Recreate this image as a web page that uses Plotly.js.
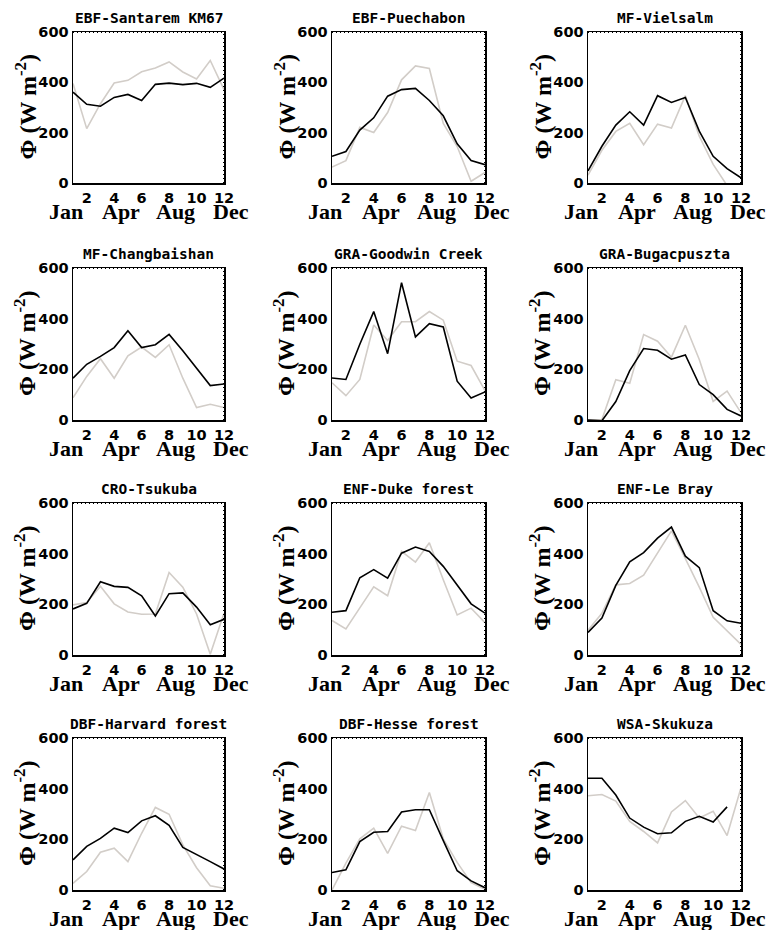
<!DOCTYPE html>
<html>
<head>
<meta charset="utf-8">
<script src="https://cdn.plot.ly/plotly-3.0.1.min.js"></script>
<style>html,body{margin:0;padding:0;background:#fff;}#chart{width:767px;height:930px;}</style>
</head>
<body>
<div id="chart"></div>
<script>
// ---- data ----
const months = [1, 2, 3, 4, 5, 6, 7, 8, 9, 10, 11, 12];
const xTickVals = [2, 4, 6, 8, 10, 12];
const yTickVals = [0, 200, 400, 600];
const monthNames = ['Jan', 'Apr', 'Aug', 'Dec'];
const monthNamePos = [0.5, 4.5, 8.5, 12.5];

const siteNames = ['EBF-Santarem KM67', 'EBF-Puechabon', 'MF-Vielsalm',
  'MF-Changbaishan', 'GRA-Goodwin Creek', 'GRA-Bugacpuszta',
  'CRO-Tsukuba', 'ENF-Duke forest', 'ENF-Le Bray',
  'DBF-Harvard forest', 'DBF-Hesse forest', 'WSA-Skukuza'];

// black line (series A) and grey line (series B), W m-2
const santaremA = [361, 313, 305, 340, 352, 328, 392, 397, 391, 396, 380, 417];
const santaremB = [395, 216, 315, 397, 408, 442, 457, 481, 441, 413, 487, 371];
const puechabonA = [106, 125, 210, 259, 345, 371, 376, 328, 267, 156, 89, 73];
const puechabonB = [63, 89, 221, 201, 280, 410, 465, 455, 237, 145, 7, 42];
const vielsalmA = [48, 146, 230, 283, 230, 347, 320, 340, 206, 106, 57, 21];
const vielsalmB = [31, 130, 205, 237, 152, 234, 218, 347, 186, 74, -10, -40];
const changbaishanA = [165, 220, 251, 286, 352, 286, 297, 338, 273, 204, 136, 142];
const changbaishanB = [88, 172, 242, 165, 253, 288, 247, 297, 165, 49, 62, 49];
const goodwinA = [166, 160, 299, 428, 262, 542, 328, 380, 367, 153, 87, 111];
const goodwinB = [147, 96, 160, 375, 314, 388, 388, 428, 394, 232, 215, 116];
const bugacA = [0, -3, 73, 195, 282, 275, 240, 257, 140, 100, 42, 16];
const bugacB = [0, 2, 159, 145, 337, 311, 248, 374, 239, 73, 114, 29];
const tsukubaA = [182, 204, 289, 271, 267, 234, 154, 242, 245, 189, 119, 141];
const tsukubaB = [198, 207, 271, 202, 170, 161, 162, 326, 268, 162, 3, 165];
const dukeA = [169, 175, 305, 337, 303, 402, 426, 409, 350, 274, 202, 165];
const dukeB = [136, 103, 186, 269, 234, 409, 367, 443, 297, 158, 185, 128];
const lebrayA = [89, 146, 275, 368, 404, 461, 505, 390, 345, 175, 135, 125];
const lebrayB = [98, 165, 277, 282, 315, 401, 490, 380, 268, 149, 96, 42];
const harvardA = [119, 172, 204, 244, 227, 273, 293, 255, 168, 141, 112, 83];
const harvardB = [26, 73, 149, 165, 112, 224, 326, 299, 178, 88, 17, 7];
const hesseA = [69, 80, 191, 228, 231, 308, 317, 317, 195, 76, 36, 9];
const hesseB = [0, 106, 202, 244, 145, 252, 235, 385, 202, 109, 29, 3];
const skukuzaA = [441, 441, 375, 284, 248, 222, 226, 271, 291, 268, 328, null];
const skukuzaB = [372, 377, 351, 271, 231, 186, 308, 353, 284, 311, 215, 404];

const seriesA = [santaremA, puechabonA, vielsalmA, changbaishanA, goodwinA, bugacA,
  tsukubaA, dukeA, lebrayA, harvardA, hesseA, skukuzaA];
const seriesB = [santaremB, puechabonB, vielsalmB, changbaishanB, goodwinB, bugacB,
  tsukubaB, dukeB, lebrayB, harvardB, hesseB, skukuzaB];

// ---- layout ----
const W = 767, H = 930;
const colPx = [[73, 224], [332, 485], [588, 741]];
const rowPx = [[32, 183], [268, 420], [503, 655], [738, 890]];
const xRange = [1, 12];
const yRange = [0, 600];

const tickFont = {family: 'DejaVu Sans', size: 14.5, color: '#000', weight: 'bold'};
const data = [];
const layout = {
  width: W, height: H,
  margin: {l: 0, r: 0, t: 0, b: 0},
  paper_bgcolor: '#fff', plot_bgcolor: '#fff',
  showlegend: false,
  annotations: [], shapes: []
};

siteNames.forEach((name, i) => {
  const n = i + 1;
  const sfx = n === 1 ? '' : String(n);
  const r = Math.floor(i / 3), c = i % 3;
  const xa = 'x' + sfx, ya = 'y' + sfx;

  data.push({x: months, y: seriesB[i], xaxis: xa, yaxis: ya, type: 'scatter', mode: 'lines',
    line: {color: '#d2cdc8', width: 1.6}, hoverinfo: 'skip'});
  data.push({x: months, y: seriesA[i], xaxis: xa, yaxis: ya, type: 'scatter', mode: 'lines',
    line: {color: '#000', width: 1.6}, hoverinfo: 'skip'});

  layout['xaxis' + sfx] = {
    domain: [colPx[c][0] / W, colPx[c][1] / W], anchor: ya,
    range: xRange, tickvals: xTickVals, ticks: '', showgrid: false, zeroline: false,
    showline: true, linecolor: '#000', linewidth: 1.5, mirror: true,
    tickfont: tickFont, ticklabelstandoff: 1, fixedrange: true
  };
  layout['yaxis' + sfx] = {
    domain: [1 - rowPx[r][1] / H, 1 - rowPx[r][0] / H], anchor: xa,
    range: yRange, tickvals: yTickVals, ticks: '', showgrid: false, zeroline: false,
    showline: true, linecolor: '#000', linewidth: 1.5, mirror: true,
    tickfont: tickFont, ticklabelstandoff: 0, fixedrange: true
  };

  // dotted minor-tick look on top and right frame
  layout.shapes.push({type: 'line', xref: xa + ' domain', yref: ya + ' domain',
    x0: 0, x1: 1, y0: 1, y1: 1,
    line: {color: '#000', width: 2, dash: '1px,3px'}, layer: 'above'});
  layout.shapes.push({type: 'line', xref: xa + ' domain', yref: ya + ' domain',
    x0: 1, x1: 1, y0: 0, y1: 1,
    line: {color: '#000', width: 2, dash: '1px,3px'}, layer: 'above'});

  // panel title
  layout.annotations.push({text: '<b>' + name + '</b>', showarrow: false,
    xref: xa + ' domain', yref: ya + ' domain', x: 0.5, y: 1, xanchor: 'center', yanchor: 'bottom',
    yshift: 4, font: {family: 'DejaVu Sans Mono', size: 14.5, color: '#000'}});
  // y axis label
  layout.annotations.push({text: '<b>Φ (W m<sup>-2</sup>)</b>', showarrow: false, textangle: -90,
    xref: xa + ' domain', yref: ya + ' domain', x: 0, y: 0.5, xanchor: 'center', yanchor: 'middle',
    xshift: -48, font: {family: 'Liberation Serif', size: 24, color: '#000'}});
  // month names under the numeric ticks
  monthNames.forEach((m, k) => {
    layout.annotations.push({text: '<b>' + m + '</b>', showarrow: false,
      xref: xa + ' domain', yref: ya + ' domain',
      x: (monthNamePos[k] - xRange[0]) / (xRange[1] - xRange[0]), y: 0,
      xanchor: 'center', yanchor: 'middle', yshift: -28,
      font: {family: 'Liberation Serif', size: 22, color: '#000'}});
  });
});

Plotly.newPlot('chart', data, layout, {staticPlot: true, displayModeBar: false});
</script>
</body>
</html>
